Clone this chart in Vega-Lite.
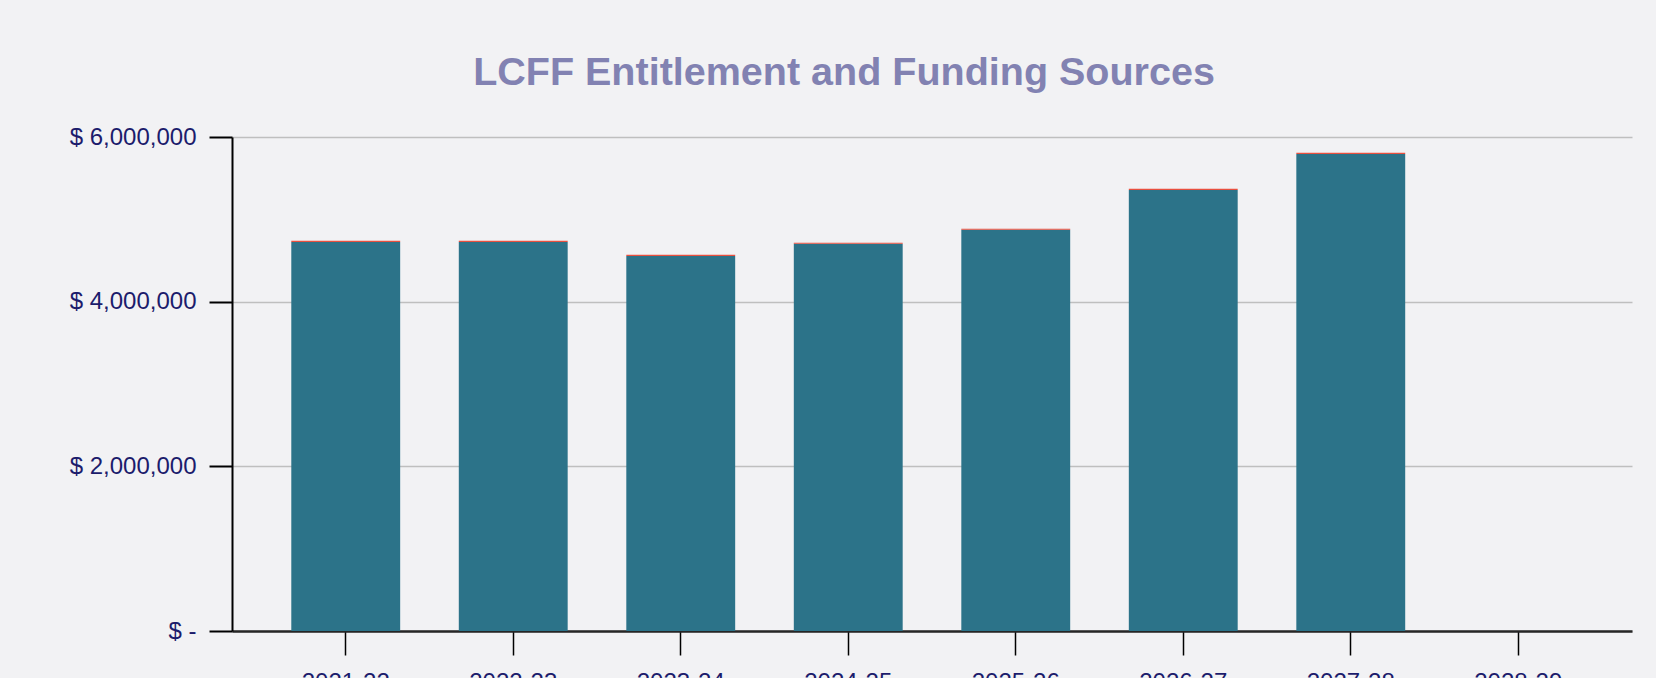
{
  "$schema": "https://vega.github.io/schema/vega-lite/v6.json",
  "autosize": "none",
  "padding": {"left": 232, "top": 137, "right": 24, "bottom": 47},
  "width": 1400,
  "height": 494,
  "background": "#f2f2f4",
  "title": {
    "text": "LCFF Entitlement and Funding Sources",
    "font": "Liberation Sans",
    "fontSize": 39.5,
    "fontWeight": "bold",
    "color": "#8282b2",
    "anchor": "middle",
    "frame": "group",
    "dx": -88,
    "baseline": "alphabetic",
    "offset": 1
  },
  "data": {
    "values": [
      {"year": "2021-22", "source": "State Aid", "amount": 4726000, "ord": 1},
      {"year": "2021-22", "source": "Local Property Taxes", "amount": 15000, "ord": 2},
      {"year": "2022-23", "source": "State Aid", "amount": 4726000, "ord": 1},
      {"year": "2022-23", "source": "Local Property Taxes", "amount": 15000, "ord": 2},
      {"year": "2023-24", "source": "State Aid", "amount": 4556000, "ord": 1},
      {"year": "2023-24", "source": "Local Property Taxes", "amount": 15000, "ord": 2},
      {"year": "2024-25", "source": "State Aid", "amount": 4702000, "ord": 1},
      {"year": "2024-25", "source": "Local Property Taxes", "amount": 15000, "ord": 2},
      {"year": "2025-26", "source": "State Aid", "amount": 4872000, "ord": 1},
      {"year": "2025-26", "source": "Local Property Taxes", "amount": 15000, "ord": 2},
      {"year": "2026-27", "source": "State Aid", "amount": 5357000, "ord": 1},
      {"year": "2026-27", "source": "Local Property Taxes", "amount": 15000, "ord": 2},
      {"year": "2027-28", "source": "State Aid", "amount": 5794000, "ord": 1},
      {"year": "2027-28", "source": "Local Property Taxes", "amount": 15000, "ord": 2},
      {"year": "2028-29", "source": "State Aid", "amount": 0, "ord": 1},
      {"year": "2028-29", "source": "Local Property Taxes", "amount": 0, "ord": 2}
    ]
  },
  "mark": {"type": "bar"},
  "encoding": {
    "x": {
      "field": "year",
      "type": "nominal",
      "sort": null,
      "scale": {"paddingInner": 0.35, "paddingOuter": 0.354},
      "axis": {
        "title": null,
        "labelAngle": 0,
        "labelFont": "Liberation Sans",
        "labelFontSize": 24,
        "labelColor": "#1c1c6c",
        "labelPadding": 15,
        "tickSize": 24,
        "tickColor": "#000000",
        "tickWidth": 1.5,
        "domainColor": "#262626",
        "domainWidth": 2.5,
        "grid": false
      }
    },
    "y": {
      "field": "amount",
      "type": "quantitative",
      "stack": "zero",
      "scale": {"domain": [0, 6000000], "nice": false},
      "axis": {
        "title": null,
        "values": [0, 2000000, 4000000, 6000000],
        "labelExpr": "datum.value == 0 ? '$ -' : '$ ' + format(datum.value, ',')",
        "labelFont": "Liberation Sans",
        "labelFontSize": 24,
        "labelColor": "#1c1c6c",
        "labelPadding": 13,
        "tickSize": 23,
        "tickColor": "#000000",
        "tickWidth": 2,
        "domainColor": "#000000",
        "domainWidth": 2,
        "grid": true,
        "gridColor": "#bfbfbf",
        "gridWidth": 1.5
      }
    },
    "color": {
      "field": "source",
      "type": "nominal",
      "scale": {"domain": ["State Aid", "Local Property Taxes"], "range": ["#2c7389", "#e9503f"]},
      "legend": null
    },
    "order": {"field": "ord", "type": "quantitative"}
  },
  "config": {"view": {"stroke": null}}
}
